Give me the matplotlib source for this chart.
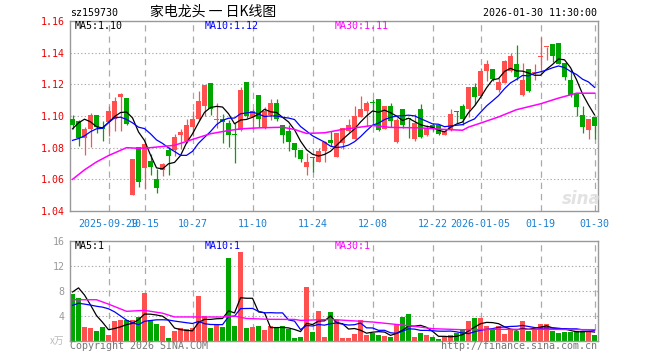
import numpy as np
import pandas as pd
import matplotlib
matplotlib.use("Agg")
import matplotlib.pyplot as plt

plt.rcParams['font.family'] = ['DejaVu Sans Mono']

# ---- data ----
date_labels = ["2025-09-29", "10-15", "10-27", "11-10", "11-24",
               "12-08", "12-22", "2026-01-05", "01-19", "01-30"]
date_idx = [6, 12, 20, 30, 40, 50, 60, 68, 78, 87]

opens = [1.0983, 1.0971, 1.0858, 1.0915, 1.1008, 1.0931, 1.0960, 1.0983, 1.1119, 1.1113,
         1.0504, 1.0806, 1.0669, 1.0715, 1.0602, 1.0660, 1.0783, 1.0788, 1.0883, 1.0842,
         1.0931, 1.0983, 1.1065, 1.1206, 1.0977, 1.0983, 1.0958, 1.0883, 1.0910, 1.1213,
         1.0994, 1.1133, 1.0931, 1.1008, 1.1085, 1.0946, 1.0908, 1.0831, 1.0783, 1.0679,
         1.0740, 1.0710, 1.0779, 1.0846, 1.0742, 1.0831, 1.0904, 1.0852, 1.0994, 1.1029,
         1.1088, 1.1108, 1.0919, 1.1065, 1.0835, 1.1046, 1.0983, 1.0852, 1.1046, 1.0877,
         1.0946, 1.0946, 1.0883, 1.0915, 1.1029, 1.1060, 1.1046, 1.1181, 1.1127, 1.1283,
         1.1300, 1.1165, 1.1210, 1.1283, 1.1327, 1.1133, 1.1296, 1.1271, 1.1375, 1.1433,
         1.1452, 1.1463, 1.1335, 1.1227, 1.1138, 1.1008, 1.0910, 1.0994]
highs = [1.1008, 1.0977, 1.0931, 1.1017, 1.1008, 1.0967, 1.1060, 1.1123, 1.1148, 1.1113,
         1.0727, 1.0806, 1.0831, 1.0758, 1.0665, 1.0706, 1.0804, 1.0888, 1.0919, 1.0983,
         1.1033, 1.1158, 1.1196, 1.1206, 1.1085, 1.1015, 1.0977, 1.0956, 1.1185, 1.1213,
         1.1046, 1.1133, 1.1054, 1.1108, 1.1108, 1.0946, 1.0946, 1.0831, 1.0783, 1.0769,
         1.0740, 1.0800, 1.0842, 1.0904, 1.0894, 1.0925, 1.0983, 1.1060, 1.1129, 1.1096,
         1.1110, 1.1108, 1.1060, 1.1085, 1.0988, 1.1046, 1.0983, 1.1013, 1.1077, 1.0946,
         1.0956, 1.0946, 1.0904, 1.1046, 1.1029, 1.1077, 1.1181, 1.1206, 1.1304, 1.1352,
         1.1300, 1.1238, 1.1356, 1.1398, 1.1446, 1.1335, 1.1296, 1.1331, 1.1498, 1.1437,
         1.1452, 1.1463, 1.1335, 1.1300, 1.1138, 1.1060, 1.0983, 1.0994]
lows = [1.0919, 1.0810, 1.0754, 1.0804, 1.0894, 1.0842, 1.0873, 1.0904, 1.0904, 1.0940,
        1.0498, 1.0550, 1.0540, 1.0627, 1.0512, 1.0623, 1.0629, 1.0748, 1.0790, 1.0831,
        1.0873, 1.0977, 1.0998, 1.1008, 1.0925, 1.0831, 1.0804, 1.0706, 1.0904, 1.0988,
        1.0919, 1.0931, 1.0919, 1.0977, 1.0967, 1.0831, 1.0779, 1.0744, 1.0710, 1.0627,
        1.0644, 1.0710, 1.0710, 1.0810, 1.0742, 1.0790, 1.0898, 1.0852, 1.0994, 1.0935,
        1.0946, 1.0904, 1.0915, 1.0931, 1.0831, 1.0925, 1.0863, 1.0842, 1.0863, 1.0873,
        1.0904, 1.0877, 1.0877, 1.0904, 1.0956, 1.0946, 1.0994, 1.1071, 1.1127, 1.1223,
        1.1223, 1.1154, 1.1206, 1.1279, 1.1227, 1.1127, 1.1154, 1.1227, 1.1290, 1.1352,
        1.1342, 1.1331, 1.1227, 1.1123, 1.1002, 1.0894, 1.0856, 1.0852]
closes = [1.0946, 1.0858, 1.0915, 1.1008, 1.0931, 1.0915, 1.1029, 1.1096, 1.1138, 1.0950,
          1.0727, 1.0585, 1.0825, 1.0679, 1.0546, 1.0694, 1.0748, 1.0867, 1.0896, 1.0946,
          1.0983, 1.1096, 1.1196, 1.1046, 1.0983, 1.0963, 1.0883, 1.0879, 1.1165, 1.1002,
          1.1031, 1.0981, 1.1033, 1.1085, 1.0981, 1.0879, 1.0835, 1.0785, 1.0727, 1.0710,
          1.0735, 1.0779, 1.0835, 1.0827, 1.0894, 1.0925, 1.0946, 1.0998, 1.1046, 1.1085,
          1.1083, 1.0910, 1.1060, 1.0967, 1.0977, 1.0946, 1.0979, 1.0956, 1.0867, 1.0925,
          1.0915, 1.0888, 1.0904, 1.1013, 1.1025, 1.0981, 1.1181, 1.1117, 1.1283, 1.1327,
          1.1235, 1.1217, 1.1346, 1.1379, 1.1248, 1.1227, 1.1158, 1.1275, 1.1379, 1.1437,
          1.1379, 1.1331, 1.1248, 1.1133, 1.1056, 1.0929, 1.0983, 1.0935]
volumes = [7.57, 6.88, 2.24, 2.08, 1.55, 2.24, 0.91, 3.20, 3.41, 3.31,
           3.31, 3.84, 7.68, 3.31, 2.67, 2.35, 0.48, 1.55, 2.08, 1.97,
           2.08, 7.15, 4.00, 2.08, 2.50, 2.24, 13.28, 2.35, 14.24, 2.08,
           2.24, 2.35, 1.71, 2.35, 2.08, 2.35, 1.97, 0.48, 0.64, 8.64,
           1.44, 4.75, 0.64, 4.64, 3.31, 0.48, 0.48, 1.07, 3.31, 0.91,
           1.28, 0.91, 0.75, 0.64, 2.50, 3.84, 4.27, 0.64, 1.28, 0.91,
           0.64, 0.27, 0.64, 0.91, 1.28, 1.97, 3.20, 3.68, 3.68, 2.35,
           1.81, 2.35, 1.17, 1.81, 1.60, 3.20, 1.60, 1.97, 2.67, 2.67,
           1.60, 1.28, 1.44, 1.44, 1.60, 1.60, 1.60, 0.91]

# closes / volumes just before the window, estimated from where MA5/MA10 start
close_pre = [1.074, 1.075, 1.074, 1.0752, 1.0883, 1.0669, 1.080, 1.109, 1.109]
vol_pre = [3.5, 3.6, 3.6, 3.5, 3.6, 3.58, 8.0, 10.0, 10.05]

# MA30 lines
ma30_idx = [0, 2, 4, 6, 9, 11, 13, 17, 20, 23, 26, 28, 31, 35, 37, 39, 42, 45,
            47, 50, 53, 58, 62, 65, 66, 68, 71, 74, 78, 81, 84, 87]
ma30_val = [1.0600, 1.0660, 1.0710, 1.0750, 1.0800, 1.0796, 1.0800, 1.0815, 1.0852,
            1.0888, 1.0908, 1.0919, 1.0925, 1.0929, 1.0915, 1.0890, 1.0894, 1.0915,
            1.0925, 1.0940, 1.0928, 1.0925, 1.0915, 1.0910, 1.0930, 1.0955, 1.0994,
            1.1040, 1.1077, 1.1113, 1.1144, 1.1144]
vma30_idx = [0, 4, 6, 9, 12, 15, 17, 25, 27, 29, 33, 37, 38, 43, 50, 57, 60, 65, 71, 77, 87]
vma30_val = [6.6, 6.6, 5.9, 4.75, 4.9, 4.45, 3.85, 3.84, 4.0, 3.6, 3.47, 3.45, 3.3,
             3.45, 3.04, 2.35, 1.97, 1.81, 1.87, 1.87, 1.81]

# ---- derived ----
x = np.arange(len(closes))
o = np.array(opens); c = np.array(closes)
up = c >= o
red, green = '#ff5050', '#00a600'
cols = np.where(up, red, green)

ma5 = pd.Series(close_pre + closes).rolling(5).mean().values[9:]
ma10 = pd.Series(close_pre + closes).rolling(10).mean().values[9:]
vma5 = pd.Series(vol_pre + volumes).rolling(5).mean().values[9:]
vma10 = pd.Series(vol_pre + volumes).rolling(10).mean().values[9:]

W, H = 660, 360
fig = plt.figure(figsize=(6.6, 3.6), dpi=100)
fig.patch.set_facecolor('white')
ax = fig.add_axes([70 / W, 1 - 211 / H, 528 / W, 190 / H])
axv = fig.add_axes([70 / W, 1 - 341 / H, 528 / W, 100 / H])

xmin, xmax = -0.42, 87.58
grid_c = '#aaaaaa'

# price panel
for yv in [1.06, 1.08, 1.10, 1.12, 1.14]:
    ax.axhline(yv, color=grid_c, lw=0.8, ls=(0, (1.2, 2)), zorder=0)
for xi in date_idx:
    ax.axvline(xi, color=grid_c, lw=0.9, ls=(0, (5, 4)), zorder=0)
    axv.axvline(xi, color=grid_c, lw=0.9, ls=(0, (5, 4)), zorder=0)

ax.vlines(x, lows, highs, colors=cols, lw=0.9, zorder=2)
body = np.maximum(np.abs(c - o), 0.0007)
ax.bar(x, body, bottom=np.minimum(o, c), width=0.8, color=cols, linewidth=0, zorder=3)

ax.plot(x, ma5, color='black', lw=0.9, zorder=4)
ax.plot(x, ma10, color='#0000ff', lw=0.9, zorder=4)
ax.plot(ma30_idx, ma30_val, color='#ff00ff', lw=1.1, zorder=4)

ax.set_xlim(xmin, xmax)
ax.set_ylim(1.04, 1.16)
yt = [1.04, 1.06, 1.08, 1.10, 1.12, 1.14, 1.16]
ax.set_yticks(yt, [f"{v:.2f}" for v in yt])
ax.set_xticks(date_idx, date_labels)
ax.tick_params(axis='y', length=0, pad=4, labelcolor='#ee0000', labelsize=7.2)
ax.tick_params(axis='x', length=0, pad=6, labelcolor='#1a80d0', labelsize=7.2)

# volume panel
for yv in [4, 8, 12]:
    axv.axhline(yv, color=grid_c, lw=0.8, ls=(0, (1.2, 2)), zorder=0)
axv.bar(x, volumes, width=0.8, color=cols, linewidth=0, zorder=2)
axv.plot(x, vma5, color='black', lw=0.9, zorder=4)
axv.plot(x, vma10, color='#0000ff', lw=0.9, zorder=4)
axv.plot(vma30_idx, vma30_val, color='#ff00ff', lw=1.0, zorder=4)
axv.set_xlim(xmin, xmax)
axv.set_ylim(0, 16)
axv.set_yticks([4, 8, 12, 16], ['4', '8', '12', '16'])
axv.set_xticks([])
axv.tick_params(axis='y', length=0, pad=4, labelcolor='#999999', labelsize=7.2)

for a in (ax, axv):
    for s in a.spines.values():
        s.set_color('#999999')
        s.set_linewidth(1.0)

# texts
fs = 7.2
cjk = ['Noto Sans CJK SC', 'DejaVu Sans']
fig.text(70 / W, 1 - 13 / H, "sz159730", ha='left', va='center', fontsize=fs)
fig.text(150 / W, 1 - 12 / H, "家电龙头 一 日K线图", ha='left', va='center',
         fontsize=10, family=cjk)
fig.text(597 / W, 1 - 13 / H, "2026-01-30 11:30:00", ha='right', va='center', fontsize=fs)

fig.text(75 / W, 1 - 26 / H, "MA5:1.10", color='black', va='center', fontsize=fs)
fig.text(205 / W, 1 - 26 / H, "MA10:1.12", color='#0000ff', va='center', fontsize=fs)
fig.text(335 / W, 1 - 26 / H, "MA30:1.11", color='#ff00ff', va='center', fontsize=fs)
fig.text(75 / W, 1 - 246 / H, "MA5:1", color='black', va='center', fontsize=fs)
fig.text(205 / W, 1 - 246 / H, "MA10:1", color='#0000ff', va='center', fontsize=fs)
fig.text(335 / W, 1 - 246 / H, "MA30:1", color='#ff00ff', va='center', fontsize=fs)

fig.text(64 / W, 1 - 341 / H, "x万", ha='right', va='center', fontsize=7,
         color='#bbbbbb', family=cjk)
fig.text(70 / W, 1 - 346 / H, "Copyright 2026 SINA.COM", ha='left', va='center',
         fontsize=fs, color='#777777')
fig.text(597 / W, 1 - 346 / H, "http://finance.sina.com.cn", ha='right', va='center',
         fontsize=fs, color='#777777')
fig.text(581 / W, 1 - 199 / H, "sina", ha='center', va='center', fontsize=12,
         style='italic', weight='bold', color='#e2e2e2', family='DejaVu Sans')

fig.savefig("out.png", dpi=100)
